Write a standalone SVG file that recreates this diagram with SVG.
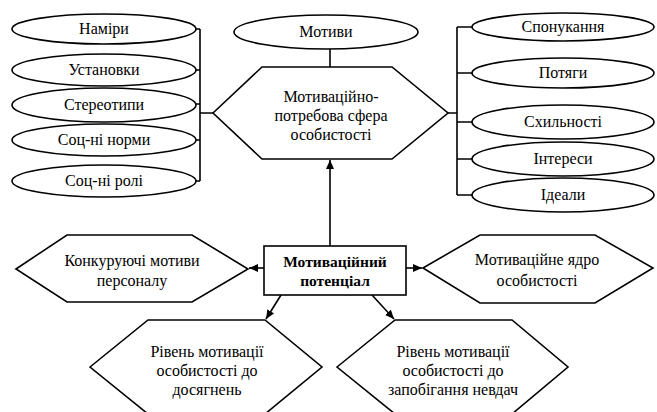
<svg xmlns="http://www.w3.org/2000/svg" width="657" height="412" viewBox="0 0 657 412">
<style>
.s{fill:#fff;stroke:#000;stroke-width:1.6}
.c{fill:none;stroke:#000;stroke-width:1.6}
.t{font-family:"Liberation Serif","Times New Roman",serif;font-size:16px;fill:#000;text-anchor:middle}
.b{font-weight:bold;font-size:15.5px}
</style>
<defs>
<marker id="ah" markerUnits="userSpaceOnUse" markerWidth="9" markerHeight="8" refX="9" refY="4" orient="auto">
<path d="M0,0 L9,4 L0,8 z" fill="#000"/>
</marker>
</defs>
<rect width="657" height="412" fill="#fff"/>
<g id="connectors">
<path class="c" d="M200,29 V181 M196,29 H200 M196,70 H200 M196,104 H200 M196,140 H200 M196,181 H200 M200,113 H213"/>
<path class="c" d="M457,27 V195 M457,27 H472 M457,73 H472 M457,122 H472 M457,159 H472 M457,195 H472 M448,113 H457"/>
<path class="c" d="M330,49 V67"/>
<path class="c" d="M330,246 V160" marker-end="url(#ah)"/>
<path class="c" d="M264,268 H249" marker-end="url(#ah)"/>
<path class="c" d="M406,268 H422" marker-end="url(#ah)"/>
<path class="c" d="M281,295 L266,319" marker-end="url(#ah)"/>
<path class="c" d="M372,295 L394,319" marker-end="url(#ah)"/>
</g>
<g id="n-namiry"><ellipse class="s" cx="104" cy="29" rx="92" ry="15"/><text class="t" x="104" y="34">Наміри</text></g>
<g id="n-ustanovky"><ellipse class="s" cx="104" cy="70" rx="92" ry="16"/><text class="t" x="104" y="75">Установки</text></g>
<g id="n-stereotypy"><ellipse class="s" cx="104" cy="105" rx="92" ry="17"/><text class="t" x="104" y="110">Стереотипи</text></g>
<g id="n-normy"><ellipse class="s" cx="104" cy="140" rx="92" ry="16"/><text class="t" x="104" y="145">Соц-ні норми</text></g>
<g id="n-roli"><ellipse class="s" cx="104" cy="181" rx="92" ry="16"/><text class="t" x="104" y="186">Соц-ні ролі</text></g>
<g id="n-motyvy"><ellipse class="s" cx="326" cy="32" rx="92" ry="17"/><text class="t" x="326" y="37">Мотиви</text></g>
<g id="n-sfera"><polygon class="s" points="213,113 262,67 392,67 448,113 392,159 262,159"/>
<text class="t" x="331" y="102">Мотиваційно-</text><text class="t" x="331" y="121">потребова сфера</text><text class="t" x="331" y="140">особистості</text></g>
<g id="n-sponukannia"><ellipse class="s" cx="563" cy="27" rx="91" ry="14"/><text class="t" x="563" y="32">Спонукання</text></g>
<g id="n-potiahy"><ellipse class="s" cx="563" cy="73" rx="91" ry="15"/><text class="t" x="563" y="78">Потяги</text></g>
<g id="n-skhylnosti"><ellipse class="s" cx="563" cy="122" rx="91" ry="17"/><text class="t" x="563" y="127">Схильності</text></g>
<g id="n-interesy"><ellipse class="s" cx="563" cy="159" rx="91" ry="17"/><text class="t" x="563" y="164">Інтереси</text></g>
<g id="n-idealy"><ellipse class="s" cx="563" cy="195" rx="91" ry="17"/><text class="t" x="563" y="200">Ідеали</text></g>
<g id="n-potentsial"><rect class="s" x="264" y="246" width="142" height="49"/>
<text class="t b" x="335" y="267">Мотиваційний</text><text class="t b" x="335" y="286">потенціал</text></g>
<g id="n-konkur"><polygon class="s" points="16,269 67,235 192,235 248,269 192,302 67,302"/>
<text class="t" x="132" y="266">Конкуруючі мотиви</text><text class="t" x="132" y="286">персоналу</text></g>
<g id="n-yadro"><polygon class="s" points="423,268 480,235 595,235 653,268 595,303 480,303"/>
<text class="t" x="537" y="265">Мотиваційне ядро</text><text class="t" x="537" y="286">особистості</text></g>
<g id="n-dosiahnen"><polygon class="s" points="90,367 148,320 265,320 322,367 265,414 148,414"/>
<text class="t" x="207" y="357">Рівень мотивації</text><text class="t" x="207" y="376">особистості до</text><text class="t" x="207" y="395">досягнень</text></g>
<g id="n-nevdach"><polygon class="s" points="337,367 395,320 512,320 568,367 512,414 395,414"/>
<text class="t" x="453" y="357">Рівень мотивації</text><text class="t" x="453" y="376">особистості до</text><text class="t" x="453" y="395">запобігання невдач</text></g>
</svg>
